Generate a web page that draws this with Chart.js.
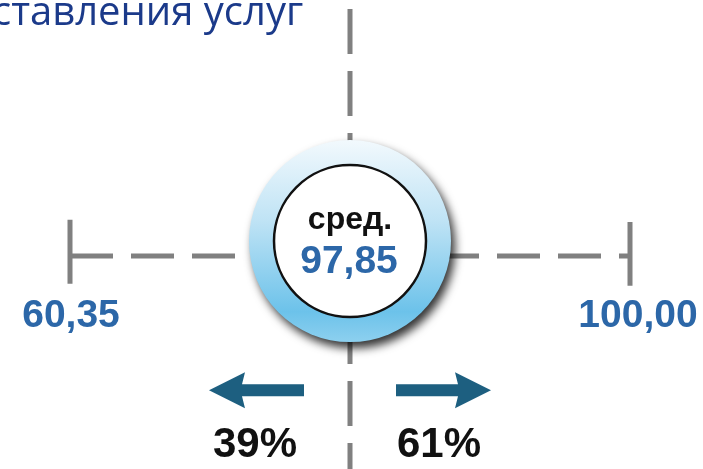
<!DOCTYPE html>
<html>
<head>
<meta charset="utf-8">
<script src="https://cdn.jsdelivr.net/npm/chart.js@4"></script>
<style>
  html, body { margin: 0; padding: 0; background: #fff; }
  #wrap { width: 703px; height: 469px; position: relative; }
</style>
</head>
<body>
<div id="wrap"><canvas id="rangeChart"></canvas></div>
<script>
// data
const titleText = "ставления услуг";
const rangeKeys = ["min", "avg", "max"];
const rangeValues = [60.35, 97.85, 100.00];
const avgCaption = "сред.";
const shareValues = [39, 61];   // below / above average, %

const fmt = v => v.toFixed(2).replace(".", ",");

const grey = "#808080";

// 1. Medallion, labels and arrows drawn over the lines
const infoPlugin = {
    id: "rangeInfo",
    afterDatasetsDraw(chart) {
        const ctx = chart.ctx;
        const x = chart.scales.x;
        const y = chart.scales.y;
        const cx = x.getPixelForValue(1);
        const cy = y.getPixelForValue(7);

        ctx.save();

        // title (cropped at the top of the picture)
        ctx.fillStyle = "#1b3a8a";
        ctx.font = "40px 'Open Sans'";
        ctx.textAlign = "left";
        ctx.textBaseline = "alphabetic";
        ctx.fillText(titleText, -8, 25);

        // outer ring with shadow
        const grad = ctx.createLinearGradient(0, cy - 101, 0, cy + 101);
        grad.addColorStop(0, "#f2f9fd");
        grad.addColorStop(0.4, "#bfe3f5");
        grad.addColorStop(0.85, "#6cc2ea");
        grad.addColorStop(1, "#8dd0ef");
        ctx.save();
        ctx.shadowColor = "rgba(0,0,0,0.8)";
        ctx.shadowBlur = 10;
        ctx.shadowOffsetX = 4;
        ctx.shadowOffsetY = 6;
        ctx.beginPath();
        ctx.arc(cx, cy, 101, 0, Math.PI * 2);
        ctx.fillStyle = grad;
        ctx.fill();
        ctx.restore();

        // inner disc
        ctx.beginPath();
        ctx.arc(cx, cy, 76, 0, Math.PI * 2);
        ctx.fillStyle = "#fff";
        ctx.fill();
        ctx.lineWidth = 2.5;
        ctx.strokeStyle = "#111";
        ctx.stroke();

        ctx.textAlign = "center";
        ctx.fillStyle = "#111";
        ctx.font = "bold 32px 'Liberation Sans'";
        ctx.fillText(avgCaption, cx, cy - 12);
        ctx.fillStyle = "#2c67a8";
        ctx.font = "bold 39px 'Liberation Sans'";
        ctx.fillText(fmt(rangeValues[1]), cx - 1, cy + 32);

        // min / max labels
        const labelY = y.getPixelForValue(-27) + 13;
        ctx.fillText(fmt(rangeValues[0]), x.getPixelForValue(0) + 1, labelY);
        ctx.fillText(fmt(rangeValues[2]), x.getPixelForValue(2) + 8, labelY);

        // arrows and shares
        const ay = y.getPixelForValue(-63);
        ctx.fillStyle = "#1d5f80";
        [-1, 1].forEach(dir => {
            const tail = cx + dir * 46, base = cx + dir * 108, tip = cx + dir * 141;
            ctx.beginPath();
            ctx.moveTo(tail, ay - 6);
            ctx.lineTo(base, ay - 6);
            ctx.lineTo(base - dir * 3, ay - 18);
            ctx.lineTo(tip, ay);
            ctx.lineTo(base - dir * 3, ay + 18);
            ctx.lineTo(base, ay + 6);
            ctx.lineTo(tail, ay + 6);
            ctx.closePath();
            ctx.fill();
        });

        ctx.fillStyle = "#111";
        ctx.font = "bold 42px 'Liberation Sans'";
        const py = y.getPixelForValue(-94.5);
        ctx.fillText(shareValues[0] + "%", cx - 95, py);
        ctx.fillText(shareValues[1] + "%", cx + 89, py);

        ctx.restore();
    }
};

// 2. Lines through the chart's own scales
const lineStyle = {
    borderColor: grey,
    borderWidth: 5,
    borderCapStyle: "butt",
    pointRadius: 0,
    fill: false,
    clip: false
};

const ctx = document.getElementById("rangeChart").getContext("2d");
const rangeChart = new Chart(ctx, {
    type: "line",
    data: {
        labels: rangeKeys,
        datasets: [
            Object.assign({ data: [{ x: "min", y: 0 }, { x: "max", y: 0 }], borderDash: [43, 18] }, lineStyle),
            Object.assign({ data: [{ x: "avg", y: 116 }, { x: "avg", y: -100 }], borderDash: [45, 17] }, lineStyle),
            Object.assign({ data: [{ x: "min", y: 17 }, { x: "min", y: -13 }] }, lineStyle),
            Object.assign({ data: [{ x: "max", y: 16 }, { x: "max", y: -14 }] }, lineStyle)
        ]
    },
    options: {
        responsive: true,
        maintainAspectRatio: false,
        animation: false,
        layout: { padding: { left: 70, right: 73, top: 43, bottom: 0 } },
        plugins: {
            legend: { display: false },
            tooltip: { enabled: false }
        },
        scales: {
            x: { type: "category", display: false, offset: false },
            y: { type: "linear", display: false, min: -100, max: 100 }
        }
    },
    plugins: [infoPlugin]
});
</script>
</body>
</html>
